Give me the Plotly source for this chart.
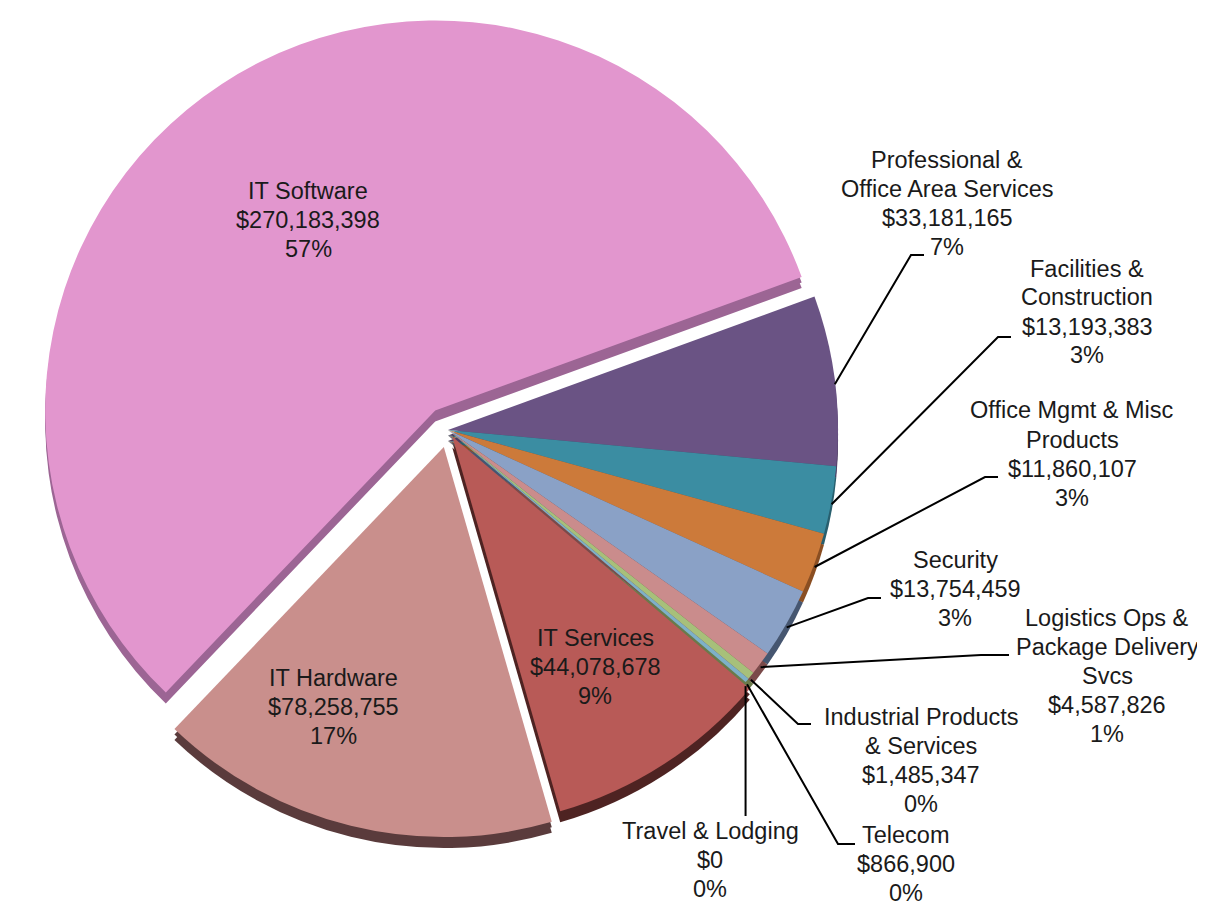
import math
import plotly.graph_objects as go

# ---------------- data ----------------
categories = [
    "Professional &<br>Office Area Services",
    "Facilities &<br>Construction",
    "Office Mgmt & Misc<br>Products",
    "Security",
    "Logistics Ops &<br>Package Delivery<br>Svcs",
    "Industrial Products<br>& Services",
    "Telecom",
    "Travel & Lodging",
    "IT Services",
    "IT Hardware",
    "IT Software",
]
values = [33181165, 13193383, 11860107, 13754459, 4587826, 1485347,
          866900, 0, 44078678, 78258755, 270183398]

# ---------------- styles ----------------
pulls = [0, 0, 0, 0, 0, 0, 0, 0, 0.02, 0.045, 0.06]
top_colors = ["#6A5384", "#3B8DA2", "#CC7A3A", "#8AA1C6", "#CA8C8C", "#A7C07A",
              "#7DB1C8", "#4A7A8A", "#B85A57", "#C98F8C", "#E296CE"]
side_colors = ["#4B3A60", "#285F6E", "#8A4E22", "#465670", "#7A4A4A", "#6A7A4A",
               "#2E5E6E", "#2E5E6E", "#4E2322", "#5A3B3C", "#9C6594"]

# label centres (px) and leader-line knee/end points (px); None = inside label
label_pos = [(939, 196), (1079, 304), (1064, 446), (947, 581), (1099, 668),
             (913, 752), (898, 856), (702, 852), (587, 659), (325, 699), (300, 212)]
leader = [((903, 247), (916, 247)), ((990, 329), (1003, 329)),
          ((977, 469), (990, 469)), ((860, 590), (873, 590)),
          ((973, 647), (1001, 647)), ((790, 716), (803, 716)),
          ((830, 836), (847, 836)), (None, 808), None, None, None]

W, H = 1205, 905
CX, CY, R = 440, 422, 390
ROT = 70
DEPTH = 11
FONT = "Liberation Sans, Arial, sans-serif"
FSIZE = 23.5
LINE_SP = 29.0

maxpull = max(pulls)
half = R * (1 + maxpull)


def domain(cx, cy):
    return dict(x=[(cx - half) / W, (cx + half) / W],
                y=[1 - (cy + half) / H, 1 - (cy - half) / H])


def px(x, y):
    return x / W, 1 - y / H


fig = go.Figure()
# 3D side (extrusion) layers
for dy in [DEPTH / 2, DEPTH]:
    fig.add_trace(go.Pie(
        values=values, labels=categories, sort=False, direction="clockwise",
        rotation=ROT, pull=pulls, textinfo="none", hoverinfo="skip",
        marker=dict(colors=side_colors, line=dict(width=0)),
        domain=domain(CX, CY + dy), showlegend=False))
# top surface
fig.add_trace(go.Pie(
    values=values, labels=categories, sort=False, direction="clockwise",
    rotation=ROT, pull=pulls, textinfo="none",
    marker=dict(colors=top_colors, line=dict(width=0)),
    domain=domain(CX, CY), showlegend=False))

total = sum(values)
annotations = []
shapes = []
cum = 0.0
for i, (name, v) in enumerate(zip(categories, values)):
    a0 = ROT + 360 * cum / total
    cum += v
    a1 = ROT + 360 * cum / total
    mid = math.radians((a0 + a1) / 2)
    pct = round(100 * v / total)
    lines = name.split("<br>") + [f"${v:,}", f"{pct}%"]
    lx, ly = label_pos[i]
    n = len(lines)
    for k, line in enumerate(lines):
        yk = ly + (k - (n - 1) / 2) * LINE_SP
        ax_, ay_ = px(lx, yk)
        annotations.append(dict(x=ax_, y=ay_, xref="paper", yref="paper", text=line,
                                showarrow=False, xanchor="center", yanchor="middle",
                                align="center",
                                font=dict(family=FONT, size=FSIZE, color="#1a1a1a")))
    ld = leader[i]
    if ld is not None:
        sx = CX + R * math.sin(mid)
        sy = CY - R * math.cos(mid) + 4
        if ld[0] is None:
            pts = [(sx, sy), (sx, ld[1])]
        else:
            pts = [(sx, sy), ld[0], ld[1]]
        path = ""
        for j, (x, y) in enumerate(pts):
            pxx, pyy = px(x, y)
            path += ("M" if j == 0 else " L") + f" {pxx:.5f},{pyy:.5f}"
        shapes.append(dict(type="path", path=path, xref="paper", yref="paper",
                           line=dict(color="#000000", width=2)))

fig.update_layout(
    width=W, height=H, margin=dict(l=0, r=0, t=0, b=0),
    paper_bgcolor="white", plot_bgcolor="white",
    annotations=annotations, shapes=shapes, showlegend=False,
)
fig.write_html("out.html")
